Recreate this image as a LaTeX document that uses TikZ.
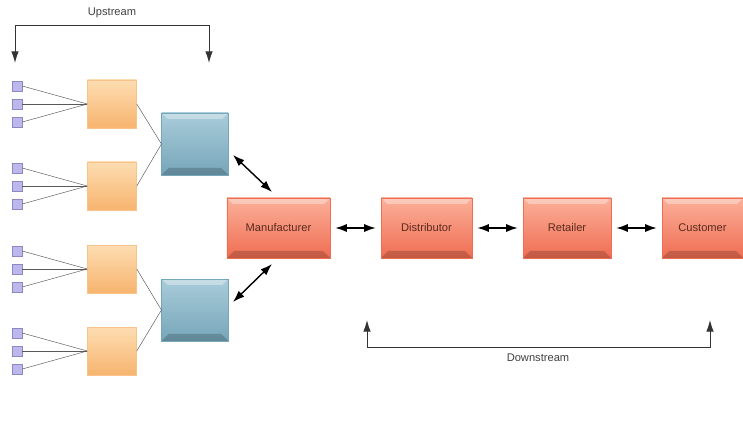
\documentclass[tikz,border=0pt]{standalone}
\usepackage{fontspec}
\setmainfont{Liberation Sans}
\usetikzlibrary{arrows.meta}
\usetikzlibrary{calc}
\usepackage{xcolor}

\definecolor{sqfill}{HTML}{BDB8EC}
\definecolor{sqedge}{HTML}{8C88C6}
\definecolor{orangeA}{HTML}{FDDDB2}
\definecolor{orangeB}{HTML}{F7B46E}
\definecolor{blueA}{HTML}{A9CCDA}
\definecolor{blueB}{HTML}{76A6B9}
\definecolor{redA}{HTML}{FBB09A}
\definecolor{redB}{HTML}{EF6D52}
\definecolor{firmtext}{HTML}{5A2A1E}

\tikzset{
  bevel/.style={path picture={
    \fill[white,opacity=.35] (path picture bounding box.north west) -- (path picture bounding box.north east)
      -- ++(-5pt,-5pt) -- ($(path picture bounding box.north west)+(5pt,-5pt)$) -- cycle;
    \fill[black,opacity=.18] (path picture bounding box.south west) -- (path picture bounding box.south east)
      -- ++(-6pt,6pt) -- ($(path picture bounding box.south west)+(6pt,6pt)$) -- cycle;}},
  sq/.style={draw=sqedge,fill=sqfill,minimum width=0.3cm,minimum height=0.3cm,inner sep=0pt},
  supp/.style={draw=orangeB!80,top color=orangeA,bottom color=orangeB,minimum width=1.47cm,minimum height=1.44cm,inner sep=0pt},
  plant/.style={draw=blueB,top color=blueA,bottom color=blueB,bevel,minimum width=2cm,minimum height=1.86cm,inner sep=0pt},
  firm/.style={draw=redB,top color=redA,bottom color=redB,bevel,minimum height=1.8cm,inner sep=0pt,
    text=firmtext,font=\fontsize{9.5}{11}\selectfont},
  fan/.style={draw=black!65,line width=0.4pt},
  tip/.style={{Latex[length=10pt,width=7pt]}-{Latex[length=10pt,width=7pt]}},
  flow/.style={tip,line width=1.2pt,shorten >=0.15cm,shorten <=0.15cm},
  bracket/.style={{Latex[length=10pt,width=6.5pt]}-{Latex[length=10pt,width=6.5pt]},line width=0.8pt,black!80},
  lbl/.style={text=black!75,font=\fontsize{9.5}{11}\selectfont}
}

\begin{document}
\begin{tikzpicture}[x=0.03cm,y=-0.03cm]
    \useasboundingbox (0,0) rectangle (743,421);
    \node[plant] (b1) at (195,144) {};
    \node[plant] (b2) at (195,310) {};
    \foreach \i/\y/\b in {1/104/b1,2/186/b1,3/269/b2,4/351/b2} {
      \node[supp] (o\i) at (112,\y) {};
      \draw[fan] (o\i.east) -- (\b.west);
      \foreach \j/\d in {1/-18,2/0,3/18} {
        \node[sq] (s\i\j) at (17,\y+\d) {};
        \draw[fan] (s\i\j.east) -- (o\i.west);
      }
    }
    \node[firm,minimum width=3.09cm] (man) at (278.5,228) {Manufacturer};
    \node[firm,minimum width=2.73cm] (dis) at (426.5,228) {Distributor};
    \node[firm,minimum width=2.64cm] (ret) at (567,228) {Retailer};
    \node[firm,minimum width=2.43cm] (cus) at (702.5,228) {Customer};
    \foreach \a/\b in {man/dis,dis/ret,ret/cus}
      \draw[flow] (\a.east) -- (\b.west);
    \coordinate (t1) at (233,155);
    \coordinate (m1) at (272,192);
    \coordinate (t2) at (233,302);
    \coordinate (m2) at (272,264);
    \draw[tip,line width=1.2pt] (t1) -- (m1);
    \draw[tip,line width=1.2pt] (t2) -- (m2);
    % upstream / downstream
    \node[lbl] (up) at (112,13) {Upstream};
    \coordinate (u1) at (15,63);
    \coordinate (u2) at (209,63);
    \draw[bracket] (u1) -- ++(0,-38) -| (u2);
    \node[lbl] (down) at (538,358) {Downstream};
    \coordinate (d1) at (367,320);
    \coordinate (d2) at (710,320);
    \draw[bracket] (d1) -- ++(0,27) -| (d2);
\end{tikzpicture}
\end{document}
